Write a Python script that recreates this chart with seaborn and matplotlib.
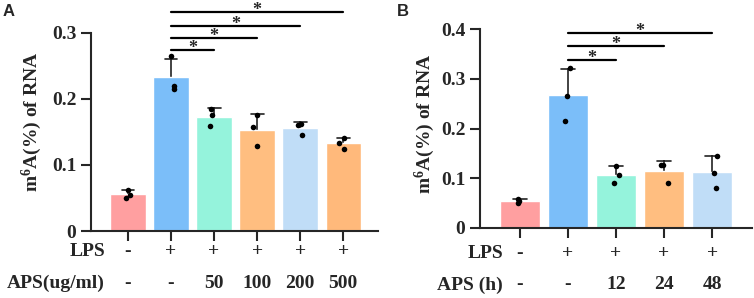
import numpy as np
import pandas as pd
import seaborn as sns
import matplotlib.pyplot as plt
import matplotlib.transforms as mtransforms

# Dane - panel A (dawki APS)
a_groups = ["ctrl", "lps", "aps50", "aps100", "aps200", "aps500"]
a_values = [
    [0.062, 0.055, 0.050],
    [0.265, 0.220, 0.215],
    [0.185, 0.175, 0.159],
    [0.175, 0.157, 0.129],
    [0.162, 0.160, 0.146],
    [0.141, 0.134, 0.124],
]
a_lps = ["-", "+", "+", "+", "+", "+"]
a_aps = ["-", "-", "50", "100", "200", "500"]
a_colors = ["#FF9FA0", "#7BBEF9", "#95F3DC", "#FFBE80", "#C0DDF7", "#FFB97B"]
a_sig = [(1, 2), (1, 3), (1, 4), (1, 5)]
a_sig_y = [0.274, 0.292, 0.310, 0.332]

# Dane - panel B (czas APS)
b_groups = ["ctrl", "lps", "h12", "h24", "h48"]
b_values = [
    [0.059, 0.054, 0.050],
    [0.321, 0.266, 0.216],
    [0.125, 0.107, 0.090],
    [0.127, 0.126, 0.090],
    [0.145, 0.110, 0.080],
]
b_lps = ["-", "+", "+", "+", "+"]
b_aps = ["-", "-", "12", "24", "48"]
b_colors = ["#FF9FA0", "#7BBEF9", "#95F3DC", "#FFBE80", "#C0DDF7"]
b_sig = [(1, 2), (1, 3), (1, 4)]
b_sig_y = [0.337, 0.365, 0.391]

sns.set_style("ticks")
plt.rcParams['font.family'] = ['Liberation Serif', 'DejaVu Serif']
plt.rcParams['font.weight'] = 'bold'
plt.rcParams['mathtext.fontset'] = 'custom'
plt.rcParams['mathtext.rm'] = 'Liberation Serif:bold'
plt.rcParams['mathtext.bf'] = 'Liberation Serif:bold'
plt.rcParams['mathtext.default'] = 'bf'

np.random.seed(3)
fig = plt.figure(figsize=(7.54, 2.98), dpi=100)


def panel(rect, groups, values, colors, lps, aps, aps_label, sig, sig_y,
          yticks, yticklabels, xlim, letter, letter_x, row_x, lps_y, aps_y, label_xy):
    ax = fig.add_axes(rect)
    df = pd.DataFrame({
        "grupa": np.repeat(groups, [len(v) for v in values]),
        "wartosc": np.concatenate(values),
    })
    sns.barplot(data=df, x="grupa", y="wartosc", hue="grupa", order=groups,
                palette=colors, saturation=1, width=0.82, errorbar="sd",
                capsize=0.3, err_kws={"color": "#222222", "linewidth": 1.2, "zorder": 0.5},
                legend=False, ax=ax)
    sns.stripplot(data=df, x="grupa", y="wartosc", order=groups, color="black",
                  size=4, jitter=0.1, zorder=3, ax=ax)
    star_tr = mtransforms.offset_copy(ax.transData, fig=fig, y=-3, units="dots")
    for (i, j), y in zip(sig, sig_y):
        ax.plot([i, j], [y, y], color="black", lw=1.6, clip_on=False)
        ax.text((i + j) / 2, y, "*", ha="center", va="baseline", transform=star_tr,
                fontsize=13, fontweight="bold")
    ax.set_xlim(*xlim)
    ax.set_ylim(0, yticks[-1])
    ax.set_yticks(yticks)
    ax.set_yticklabels(yticklabels, fontsize=14, fontweight="bold")
    ax.set_xticks(range(len(groups)))
    ax.set_xticklabels([])
    ax.tick_params(axis="both", length=7, width=1.5)
    for s in ["left", "bottom"]:
        ax.spines[s].set_linewidth(1.5)
    sns.despine(ax=ax)
    ax.set_xlabel("")
    ax.set_ylabel("m$^{6}$A(%) of RNA", fontsize=14, fontweight="bold")
    ax.yaxis.set_label_coords(*label_xy)
    tr = ax.get_xaxis_transform()
    for k in range(len(groups)):
        ax.text(k, lps_y, lps[k], transform=tr, ha="center", va="center",
                fontsize=14, fontweight="bold")
        ax.text(k, aps_y, aps[k], transform=tr, ha="center", va="center",
                fontsize=14, fontweight="bold")
    row_tr = mtransforms.blended_transform_factory(fig.transFigure, ax.transAxes)
    ax.text(row_x, lps_y, "LPS", transform=row_tr, ha="right", va="center",
            fontsize=14, fontweight="bold")
    ax.text(row_x, aps_y, aps_label, transform=row_tr, ha="right", va="center",
            fontsize=14, fontweight="bold")
    fig.text(letter_x, 1 - 12 / 298, letter, ha="left", va="center",
             fontsize=12, fontweight="bold", family="Liberation Sans")
    return ax


panel([91 / 754, 67 / 298, 287 / 754, 198 / 298], a_groups, a_values, a_colors,
      a_lps, a_aps, "APS(ug/ml)", a_sig, a_sig_y,
      [0, 0.1, 0.2, 0.3], ["0", "0.1", "0.2", "0.3"], (-0.86, 5.81),
      "A", 3 / 754, 105 / 754, -0.106, -0.263, (-0.164, 0.553))
panel([480 / 754, 70 / 298, 272 / 754, 199 / 298], b_groups, b_values, b_colors,
      b_lps, b_aps, "APS (h)", b_sig, b_sig_y,
      [0, 0.1, 0.2, 0.3, 0.4], ["0", "0.1", "0.2", "0.3", "0.4"], (-0.83, 4.83),
      "B", 397 / 754, 503 / 754, -0.126, -0.286, (-0.158, 0.525))

plt.savefig("out.png", dpi=100)
